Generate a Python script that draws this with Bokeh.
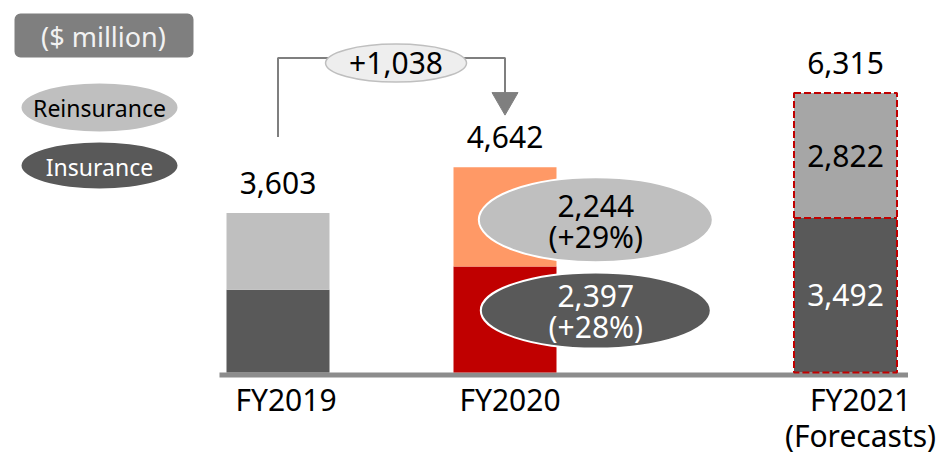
from bokeh.plotting import figure
from bokeh.models import ColumnDataSource, Range1d, BoxAnnotation
from bokeh.core.properties import value
from bokeh.embed import file_html
from bokeh.resources import INLINE

# ---------------- data ----------------
categories = ["FY2019", "FY2020", "FY2021"]
category_sublabels = ["", "", "(Forecasts)"]
insurance = [1870, 2397, 3492]
reinsurance = [1733, 2244, 2822]
totals = [3603, 4642, 6315]
fy2020_growth = ["(+29%)", "(+28%)"]          # reinsurance, insurance
increase_label = "+1,038"
unit_label = "($ million)"
series_names = ["Reinsurance", "Insurance"]

# ---------------- layout / style ----------------
x_positions = [0, 1, 2.5]
label_dx = [8, 5, 15]
insurance_colors = ["#595959", "#C00000", "#595959"]
reinsurance_colors = ["#BFBFBF", "#FF9966", "#A6A6A6"]
FONT = value("Noto Sans")

W, H = 949, 455
PX_X = 227.0      # pixels per x unit
PX_V = 22.6       # value units per pixel
BASE_Y = 372      # pixel row of the zero line
X0 = 277.5        # pixel column of first category
x_start = -X0 / PX_X
x_end = x_start + W / PX_X
y_end = BASE_Y * PX_V
y_start = y_end - H * PX_V


def dx(px):
    return x_start + px / PX_X


def dy(py):
    return y_end - py * PX_V


p = figure(width=W, height=H, output_backend="svg", toolbar_location=None,
           x_range=Range1d(x_start, x_end), y_range=Range1d(y_start, y_end),
           x_axis_type=None, y_axis_type=None, min_border=0,
           outline_line_color=None, background_fill_color="white")

bar_w = 103 / PX_X

# baseline
p.segment(x0=[x_positions[0] - bar_w / 2 - 7 / PX_X], x1=[x_positions[-1] + bar_w / 2 + 11 / PX_X],
          y0=[-2.5 * PX_V], y1=[-2.5 * PX_V], line_color="#8C8C8C", line_width=5)

# stacked bars
src = ColumnDataSource(dict(
    x=x_positions,
    ins=insurance,
    tot=[a + b for a, b in zip(insurance, reinsurance)],
    ins_c=insurance_colors,
    re_c=reinsurance_colors,
))
p.vbar(x="x", width=bar_w, bottom=0, top="ins", fill_color="ins_c", line_color=None, source=src)
p.vbar(x="x", width=bar_w, bottom="ins", top="tot", fill_color="re_c", line_color=None, source=src)

# dashed outline on forecast bar
fi = 2
p.vbar(x=[x_positions[fi]], width=bar_w, bottom=[0], top=[totals[fi]],
       fill_color=None, line_color="#C00000", line_width=2, line_dash="7 3")
p.segment(x0=[x_positions[fi] - bar_w / 2], x1=[x_positions[fi] + bar_w / 2],
          y0=[insurance[fi]], y1=[insurance[fi]],
          line_color="#C00000", line_width=2, line_dash="7 3")

TXT = dict(text_font=FONT, text_font_size="30px", text_align="center")

# total labels
p.text(x=x_positions, y=totals, text=[f"{t:,}" for t in totals], y_offset=-30,
       text_baseline="middle", text_color="#000000", **TXT)

# category labels
p.text(x=x_positions, y=[dy(399)] * 3, text=categories, x_offset=label_dx,
       text_baseline="middle", text_color="#000000", **TXT)
p.text(x=[x_positions[i] for i, s in enumerate(category_sublabels) if s],
       y=[dy(435)], text=[s for s in category_sublabels if s], x_offset=[label_dx[2]],
       text_baseline="middle", text_color="#000000", **TXT)

# FY2021 segment labels
p.text(x=[x_positions[fi]], y=[insurance[fi] + reinsurance[fi] / 2], text=[f"{reinsurance[fi]:,}"],
       text_baseline="middle", text_color="#000000", **TXT)
p.text(x=[x_positions[fi]], y=[insurance[fi] / 2], text=[f"{insurance[fi]:,}"],
       text_baseline="middle", text_color="#FFFFFF", **TXT)

# FY2020 callout ellipses
ci = 1
ex = x_positions[ci] + 0.4
re_y = insurance[ci] + reinsurance[ci] / 2 - 3 * PX_V
in_y = insurance[ci] / 2 + 9 * PX_V
p.ellipse(x=[ex], y=[re_y], width=[234], height=[85], width_units="screen", height_units="screen",
          fill_color="#BFBFBF", line_color="white", line_width=2)
p.ellipse(x=[ex], y=[in_y], width=[230], height=[76], width_units="screen", height_units="screen",
          fill_color="#595959", line_color="white", line_width=2)
p.text(x=[ex, ex], y=[re_y, re_y], text=[f"{reinsurance[ci]:,}", fy2020_growth[0]],
       y_offset=[-14, 17], text_baseline="middle", text_color="#000000", **TXT)
p.text(x=[ex, ex], y=[in_y, in_y], text=[f"{insurance[ci]:,}", fy2020_growth[1]],
       y_offset=[-14, 16], text_baseline="middle", text_color="#FFFFFF", **TXT)

# increase bracket
level = max(totals[0], totals[1]) + 109 * PX_V
left_bottom = totals[0] + 76 * PX_V
arrow_tip = totals[1] + 59 * PX_V
p.line(x=[x_positions[0], x_positions[0], x_positions[1], x_positions[1]],
       y=[left_bottom, level, level, arrow_tip + 14 * PX_V],
       line_color="#7F7F7F", line_width=2)
p.scatter(x=[x_positions[1]], y=[arrow_tip + 8 * PX_V], marker="inverted_triangle", size=26,
          fill_color="#7F7F7F", line_color="#7F7F7F")
mx = (x_positions[0] + x_positions[1]) / 2 + 0.02
p.ellipse(x=[mx], y=[level - 5 * PX_V], width=[141], height=[38], width_units="screen",
          height_units="screen", fill_color="#EEEEEE", line_color="#BFBFBF", line_width=1.5)
p.text(x=[mx], y=[level - 5 * PX_V], text=[increase_label],
       text_baseline="middle", text_color="#000000", **TXT)

# unit box
p.add_layout(BoxAnnotation(left=dx(14), right=dx(193), top=dy(13), bottom=dy(57),
                           fill_color="#7F7F7F", fill_alpha=1.0, line_color=None,
                           border_radius=6, level="underlay"))
p.text(x=[dx(103)], y=[dy(36)], text=[unit_label], text_font=FONT, text_font_size="27px",
       text_align="center", text_baseline="middle", text_color="#F2F2F2")

# legend ellipses
p.ellipse(x=[dx(99), dx(99)], y=[dy(107), dy(165)], width=[156, 156], height=[48, 46],
          width_units="screen", height_units="screen",
          fill_color=[reinsurance_colors[0], insurance_colors[0]], line_color=None)
p.text(x=[dx(99), dx(99)], y=[dy(107), dy(166)], text=series_names, text_font=FONT,
       text_font_size="23px", text_align="center", text_baseline="middle",
       text_color=["#000000", "#FFFFFF"])

open("out.html", "w").write(file_html(p, INLINE))
